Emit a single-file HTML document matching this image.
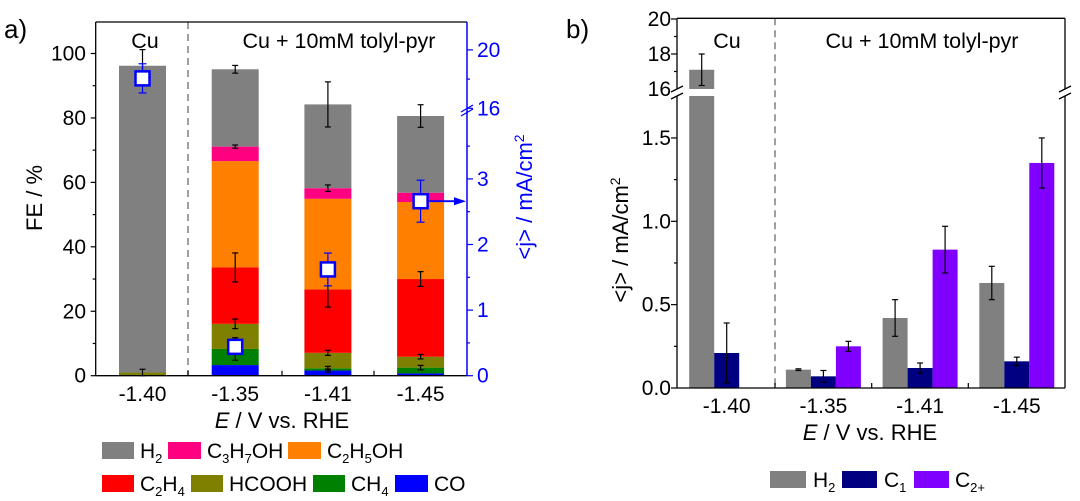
<!DOCTYPE html>
<html><head><meta charset="utf-8">
<style>
body{margin:0;background:#fff;}
svg{display:block;font-family:"Liberation Sans",Arial,sans-serif;}
</style></head>
<body>
<svg id="chart" width="1080" height="501" viewBox="0 0 1080 501" xmlns="http://www.w3.org/2000/svg">
<text x="4" y="38" font-size="26">a)</text>
<text x="566" y="38" font-size="26">b)</text>
<g id="pa"></g>
<g id="pb"></g>
</svg>
<script>
// ---------- Panel a data ----------
const aCategories = ["-1.40","-1.35","-1.41","-1.45"];
const aSeriesNames = ["CO","CH4","HCOOH","C2H4","C2H5OH","C3H7OH","H2"];
const aCO     = [0, 3.3, 1.6, 0.7];
const aCH4    = [0, 5.0, 0.7, 1.8];
const aHCOOH  = [1.0, 7.8, 4.8, 3.4];
const aC2H4   = [0, 17.5, 19.7, 24.1];
const aC2H5OH = [0, 33.0, 28.1, 23.9];
const aC3H7OH = [0, 4.5, 3.3, 2.9];
const aH2     = [95.2, 24.0, 26.0, 23.8];
const aErrH2 = [5, 1.2, 7, 3.5];
const aErrC3 = [0, 0.5, 1.0, 0];
const aErrC2H4 = [0, 4.5, 5.5, 2.3];
const aErrHCOOH = [1.0, 1.5, 0.8, 0.7];
const aErrCH4 = [0, 3.5, 0.6, 0.7];
const aErrCO = [0, 0, 0.5, 0];
const aJ = [18.05, 0.44, 1.62, 2.66];
const aJErr = [1.0, 0.08, 0.25, 0.32];
const aLeftTicks = [0,20,40,60,80,100];
const aRightTicksLow = [0,1,2,3];
const aRightTicksHigh = [16,20];
// ---------- Panel b data ----------
const bCategories = ["-1.40","-1.35","-1.41","-1.45"];
const bH2 = [17.1, 0.11, 0.42, 0.63];
const bH2Err = [0.9, 0.005, 0.11, 0.1];
const bC1 = [0.21, 0.07, 0.12, 0.16];
const bC1Err = [0.18, 0.035, 0.03, 0.025];
const bC2 = [null, 0.25, 0.83, 1.35];
const bC2Err = [0, 0.03, 0.14, 0.15];
const bTicksLow = ["0.0","0.5","1.0","1.5"];
const bTicksHigh = [16,18,20];

const NS="http://www.w3.org/2000/svg";
function el(parent,tag,attrs,text){const e=document.createElementNS(NS,tag);for(const k in attrs)e.setAttribute(k,attrs[k]);if(text!==undefined)e.textContent=text;parent.appendChild(e);return e;}

// ===== Panel a =====
(function(){
const g=document.getElementById('pa');
const L=95.7,R=467,T=22,B=375.7;
const yFE=v=>B-v*3.222;
const yJ=v=> v<=3.5 ? B-v*65.6 : 108.3-(v-16)*14.6;
const xC=i=>142.5+i*92.7;
const bw=47;
const colors={CO:"#0000ff",CH4:"#008000",HCOOH:"#808000",C2H4:"#ff0000",C2H5OH:"#ff8000",C3H7OH:"#ff0080",H2:"#808080"};
const series={CO:aCO,CH4:aCH4,HCOOH:aHCOOH,C2H4:aC2H4,C2H5OH:aC2H5OH,C3H7OH:aC3H7OH,H2:aH2};
const errs={CO:aErrCO,CH4:aErrCH4,HCOOH:aErrHCOOH,C2H4:aErrC2H4,C3H7OH:aErrC3,H2:aErrH2};
aCategories.forEach((c,i)=>{
  let cum=0;const tops=[];
  aSeriesNames.forEach(s=>{
    const v=series[s][i]; if(v>0){
      const r=el(g,'rect',{x:xC(i)-bw/2,y:yFE(cum+v),width:bw,height:yFE(cum)-yFE(cum+v),fill:colors[s]});
      
      
    }
    cum+=v; tops.push([s,cum]);
  });
  tops.forEach(([s,top])=>{
    const e=errs[s]?errs[s][i]:0;
    if(e>0 && series[s][i]>0){
      const eg=el(g,'g',{stroke:'#000','stroke-width':1.2});
      
      
      el(eg,'line',{x1:xC(i),x2:xC(i),y1:yFE(top-e),y2:yFE(top+e)});
      el(eg,'line',{x1:xC(i)-3,x2:xC(i)+3,y1:yFE(top-e),y2:yFE(top-e)});
      el(eg,'line',{x1:xC(i)-3,x2:xC(i)+3,y1:yFE(top+e),y2:yFE(top+e)});
    }
  });
});
const d=el(g,'line',{x1:188,x2:188,y1:T,y2:B,stroke:'#808080','stroke-width':1.5,'stroke-dasharray':'7,5'});

aJ.forEach((v,i)=>{
  const pg=el(g,'g',{});
  
  
  const e=aJErr[i];
  el(pg,'line',{x1:xC(i),x2:xC(i),y1:yJ(v-e),y2:yJ(v+e),stroke:'#0000ff','stroke-width':1.2});
  el(pg,'line',{x1:xC(i)-4,x2:xC(i)+4,y1:yJ(v-e),y2:yJ(v-e),stroke:'#0000ff','stroke-width':1.2});
  el(pg,'line',{x1:xC(i)-4,x2:xC(i)+4,y1:yJ(v+e),y2:yJ(v+e),stroke:'#0000ff','stroke-width':1.2});
  el(pg,'rect',{x:xC(i)-7,y:yJ(v)-7,width:14,height:14,fill:'#fff',stroke:'#0000ff','stroke-width':2.5});
});
const ar=el(g,'g',{});

el(ar,'line',{x1:xC(3)+9,x2:458,y1:yJ(aJ[3]),y2:yJ(aJ[3]),stroke:'#0000ff','stroke-width':1.8});
el(ar,'polygon',{points:`${466},${yJ(aJ[3])} ${454},${yJ(aJ[3])-4} ${454},${yJ(aJ[3])+4}`,fill:'#0000ff'});
el(g,'line',{x1:L,x2:R,y1:T,y2:T,stroke:'#000','stroke-width':1.3});
el(g,'line',{x1:L,x2:R,y1:B,y2:B,stroke:'#000','stroke-width':1.3});
const la=el(g,'line',{x1:L,x2:L,y1:T,y2:B,stroke:'#000','stroke-width':1.3});

const ra=el(g,'line',{x1:R,x2:R,y1:T,y2:B,stroke:'#0000ff','stroke-width':1.5});

for(let v=0;v<=100;v+=10){el(g,'line',{x1:L-(v%20?3:5),x2:L,y1:yFE(v),y2:yFE(v),stroke:'#000','stroke-width':1.2});}
aLeftTicks.forEach(v=>{const t=el(g,'text',{x:86,y:yFE(v)+7,'font-size':21,'text-anchor':'end'},String(v));
});
[0,0.5,1,1.5,2,2.5,3,3.5].forEach(v=>el(g,'line',{x1:R,x2:R+(v%1?3:6),y1:yJ(v),y2:yJ(v),stroke:'#0000ff','stroke-width':1.2}));
[16,18,20].forEach(v=>el(g,'line',{x1:R,x2:R+(v%4?3:6),y1:yJ(v),y2:yJ(v),stroke:'#0000ff','stroke-width':1.2}));
aRightTicksLow.concat(aRightTicksHigh).forEach(v=>{const t=el(g,'text',{x:477,y:yJ(v)+7,'font-size':21,fill:'#0000ff'},String(v));
});
el(g,'line',{x1:R-6,x2:R+6,y1:112,y2:105,stroke:'#0000ff','stroke-width':1.3});
el(g,'line',{x1:R-6,x2:R+6,y1:116,y2:109,stroke:'#0000ff','stroke-width':1.3});
[188,282,374].forEach(x=>el(g,'line',{x1:x,x2:x,y1:B-5,y2:B,stroke:'#000','stroke-width':1.2}));
aCategories.forEach((c,i)=>{const t=el(g,'text',{x:xC(i),y:401,'font-size':21,'text-anchor':'middle'},c);
});
})();
</script>
<script>
// ===== Panel b =====
(function(){
const g=document.getElementById('pb');
const L=677,R=1065,T=18.3,B=388;
const y=v=> v<=1.8 ? B-v*166.7 : 89-(v-16)*17.5;
const xC=i=>726.7+i*96.7;
const bw=25;
function bar(i,off,v,e,fill,name){
  if(v===null)return;
  const x=xC(i)+off;
  if(v>15){
    const r1=el(g,'rect',{x:x-bw/2,y:96,width:bw,height:B-96,fill:fill});
    
    const r2=el(g,'rect',{x:x-bw/2,y:y(v),width:bw,height:89-y(v),fill:fill});
    
  } else {
    const r=el(g,'rect',{x:x-bw/2,y:y(v),width:bw,height:B-y(v),fill:fill});
    
  }
  if(e>0){
    const eg=el(g,'g',{stroke:'#000','stroke-width':1.2});
    
    el(eg,'line',{x1:x,x2:x,y1:y(v-e),y2:y(v+e)});
    el(eg,'line',{x1:x-3,x2:x+3,y1:y(v-e),y2:y(v-e)});
    el(eg,'line',{x1:x-3,x2:x+3,y1:y(v+e),y2:y(v+e)});
  }
}
bCategories.forEach((c,i)=>{
  bar(i,-25,bH2[i],bH2Err[i],'#808080','bar-h2');
  bar(i,0,bC1[i],bC1Err[i],'#000080','bar-c1');
  bar(i,25,bC2[i],bC2Err[i],'#8000ff','bar-c2');
});
const d=el(g,'line',{x1:775,x2:775,y1:T,y2:B,stroke:'#808080','stroke-width':1.5,'stroke-dasharray':'7,5'});

el(g,'line',{x1:L,x2:R,y1:T,y2:T,stroke:'#000','stroke-width':1.3});
el(g,'line',{x1:L,x2:R,y1:B,y2:B,stroke:'#000','stroke-width':1.3});
el(g,'line',{x1:R,x2:R,y1:T,y2:89,stroke:'#000','stroke-width':1.3});
el(g,'line',{x1:R,x2:R,y1:96,y2:B,stroke:'#000','stroke-width':1.3});
const la=el(g,'g',{stroke:'#000','stroke-width':1.3});

el(la,'line',{x1:L,x2:L,y1:T,y2:89});
el(la,'line',{x1:L,x2:L,y1:96,y2:B});
[[L,0],[R,0]].forEach(([x])=>{
  el(g,'line',{x1:x-6,x2:x+6,y1:92,y2:86,stroke:'#000','stroke-width':1.3});
  el(g,'line',{x1:x-6,x2:x+6,y1:99,y2:93,stroke:'#000','stroke-width':1.3});
});
[0,0.25,0.5,0.75,1,1.25,1.5].forEach(v=>el(g,'line',{x1:L-(v%0.5?3:6),x2:L,y1:y(v),y2:y(v),stroke:'#000','stroke-width':1.2}));
[17,18,19,20].forEach(v=>el(g,'line',{x1:L-(v%2?3:6),x2:L,y1:y(v),y2:y(v),stroke:'#000','stroke-width':1.2}));
bTicksLow.forEach(s=>{const t=el(g,'text',{x:671,y:y(parseFloat(s))+7,'font-size':21,'text-anchor':'end'},s);
});
bTicksHigh.forEach(v=>{const t=el(g,'text',{x:671,y:y(v)+7,'font-size':21,'text-anchor':'end'},String(v));
});
[775,871.7,968.3].forEach(x=>el(g,'line',{x1:x,x2:x,y1:B-5,y2:B,stroke:'#000','stroke-width':1.2}));
bCategories.forEach((c,i)=>{const t=el(g,'text',{x:xC(i),y:413,'font-size':21,'text-anchor':'middle'},c);
});
})();
</script>
<svg style="position:absolute;left:0;top:0" width="1080" height="501">
<g font-family="Liberation Sans, Arial, sans-serif">
<text x="145" y="48" font-size="21.5" text-anchor="middle">Cu</text>
<text x="339" y="48" font-size="21.5" text-anchor="middle">Cu + 10mM tolyl-pyr</text>
<text x="727" y="48" font-size="21.5" text-anchor="middle">Cu</text>
<text x="922" y="48" font-size="21.5" text-anchor="middle">Cu + 10mM tolyl-pyr</text>
<text transform="translate(42,198) rotate(-90)" font-size="22" text-anchor="middle">FE / %</text>
<text transform="translate(532,197) rotate(-90)" font-size="22" text-anchor="middle" fill="#0000ff">&lt;j&gt; / mA/cm<tspan dy="-8" font-size="14">2</tspan></text>
<text transform="translate(628,240) rotate(-90)" font-size="22" text-anchor="middle">&lt;j&gt; / mA/cm<tspan dy="-8" font-size="14">2</tspan></text>
<text x="282" y="428" font-size="22" text-anchor="middle"><tspan font-style="italic">E</tspan> / V vs. RHE</text>
<text x="870" y="440" font-size="22" text-anchor="middle"><tspan font-style="italic">E</tspan> / V vs. RHE</text>
<g font-size="21">
<rect x="102" y="442" width="32" height="17" fill="#808080"/>
<text x="140" y="458">H<tspan dy="5" font-size="13">2</tspan></text>
<rect x="168" y="442" width="33" height="17" fill="#ff0080"/>
<text x="207" y="458">C<tspan dy="5" font-size="13">3</tspan><tspan dy="-5">H</tspan><tspan dy="5" font-size="13">7</tspan><tspan dy="-5">OH</tspan></text>
<rect x="288" y="442" width="33" height="17" fill="#ff8000"/>
<text x="327" y="458">C<tspan dy="5" font-size="13">2</tspan><tspan dy="-5">H</tspan><tspan dy="5" font-size="13">5</tspan><tspan dy="-5">OH</tspan></text>
<rect x="102" y="475" width="32" height="17" fill="#ff0000"/>
<text x="140" y="491">C<tspan dy="5" font-size="13">2</tspan><tspan dy="-5">H</tspan><tspan dy="5" font-size="13">4</tspan></text>
<rect x="191" y="475" width="32" height="17" fill="#808000"/>
<text x="229" y="491">HCOOH</text>
<rect x="313" y="475" width="32" height="17" fill="#008000"/>
<text x="351" y="491">CH<tspan dy="5" font-size="13">4</tspan></text>
<rect x="395" y="475" width="33" height="17" fill="#0000ff"/>
<text x="434" y="491">CO</text>
</g>
<g font-size="21">
<rect x="770" y="471" width="36" height="17" fill="#808080"/>
<text x="813" y="487">H<tspan dy="5" font-size="13">2</tspan></text>
<rect x="842" y="471" width="35" height="17" fill="#000080"/>
<text x="884" y="487">C<tspan dy="5" font-size="13">1</tspan></text>
<rect x="914" y="471" width="35" height="17" fill="#8000ff"/>
<text x="955" y="487">C<tspan dy="5" font-size="13">2+</tspan></text>
</g>
</g>
</svg>
</body></html>
